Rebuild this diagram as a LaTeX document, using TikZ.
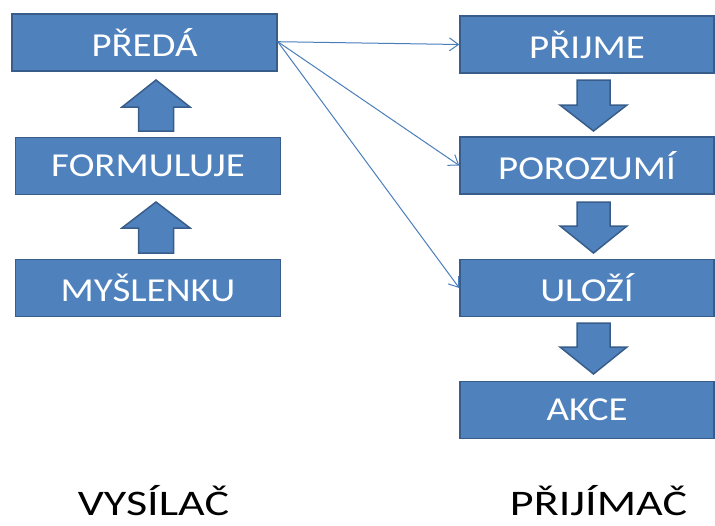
\documentclass[tikz,border=0pt]{standalone}
\usepackage{fontspec}
\setmainfont{Carlito}
\newfontfamily\boxfont[FakeStretch=1.16]{Carlito}
\newfontfamily\labelfont[FakeStretch=1.28]{Carlito}
\usetikzlibrary{arrows.meta}

\definecolor{boxfill}{RGB}{79,129,189}
\definecolor{boxline}{RGB}{56,93,138}
\definecolor{linkline}{RGB}{74,126,187}

\begin{document}
\begin{tikzpicture}[x=1pt,y=-1pt,
  stepbox/.style={draw=boxline,line width=1.5pt,fill=boxfill,text=white,
    minimum width=265pt,minimum height=57pt,inner sep=0pt,
    font=\boxfont\fontsize{33.5}{36}\selectfont},
  blockarrow/.style={draw=boxline,line width=1.5pt,fill=boxfill,line join=miter},
  link/.style={draw=linkline,line width=1pt,-{Straight Barb[length=9pt,width=13pt]}},
  sidelabel/.style={anchor=base,inner sep=0pt,font=\labelfont\fontsize{36}{40}\selectfont}]
\useasboundingbox (0,0) rectangle (715,525);
% vysilac
\node[stepbox] (preda) at (144.5,42.5) {PŘEDÁ};
\node[stepbox] (formuluje) at (148,166) {FORMULUJE};
\node[stepbox] (myslenku) at (148,288) {MYŠLENKU};
% prijimac
\node[stepbox,minimum width=254pt] (prijme) at (587,44.5) {PŘIJME};
\node[stepbox,minimum width=254pt] (porozumi) at (587,165.5) {POROZUMÍ};
\node[stepbox,minimum width=254pt] (ulozi) at (587,288) {ULOŽÍ};
\node[stepbox,minimum width=254pt] (akce) at (587,410) {AKCE};
% block arrows
\draw[blockarrow] (138.5,131) -- (138.5,107) -- (122,107) -- (156,80) -- (190,107) -- (173.5,107) -- (173.5,131) -- cycle;
\draw[blockarrow] (138.5,253) -- (138.5,228) -- (122,228) -- (156,202) -- (190,228) -- (173.5,228) -- (173.5,253) -- cycle;
\draw[blockarrow] (577,80) -- (577,105) -- (560,105) -- (593.5,131) -- (627,105) -- (610,105) -- (610,80) -- cycle;
\draw[blockarrow] (577,202) -- (577,226) -- (560,226) -- (593.5,253) -- (627,226) -- (610,226) -- (610,202) -- cycle;
\draw[blockarrow] (577,323) -- (577,347) -- (560,347) -- (593.5,374) -- (627,347) -- (610,347) -- (610,323) -- cycle;
% links
\coordinate (out) at ([yshift=0.8pt]preda.east);
\draw[link] (out) -- (prijme.west);
\draw[link] (out) -- (porozumi.west);
\draw[link] (out) -- (ulozi.west);
% labels
\node[sidelabel] (vysilac) at (153.5,515.5) {VYSÍLAČ};
\node[sidelabel] (prijimac) at (598.5,515.5) {PŘIJÍMAČ};
\end{tikzpicture}
\end{document}
